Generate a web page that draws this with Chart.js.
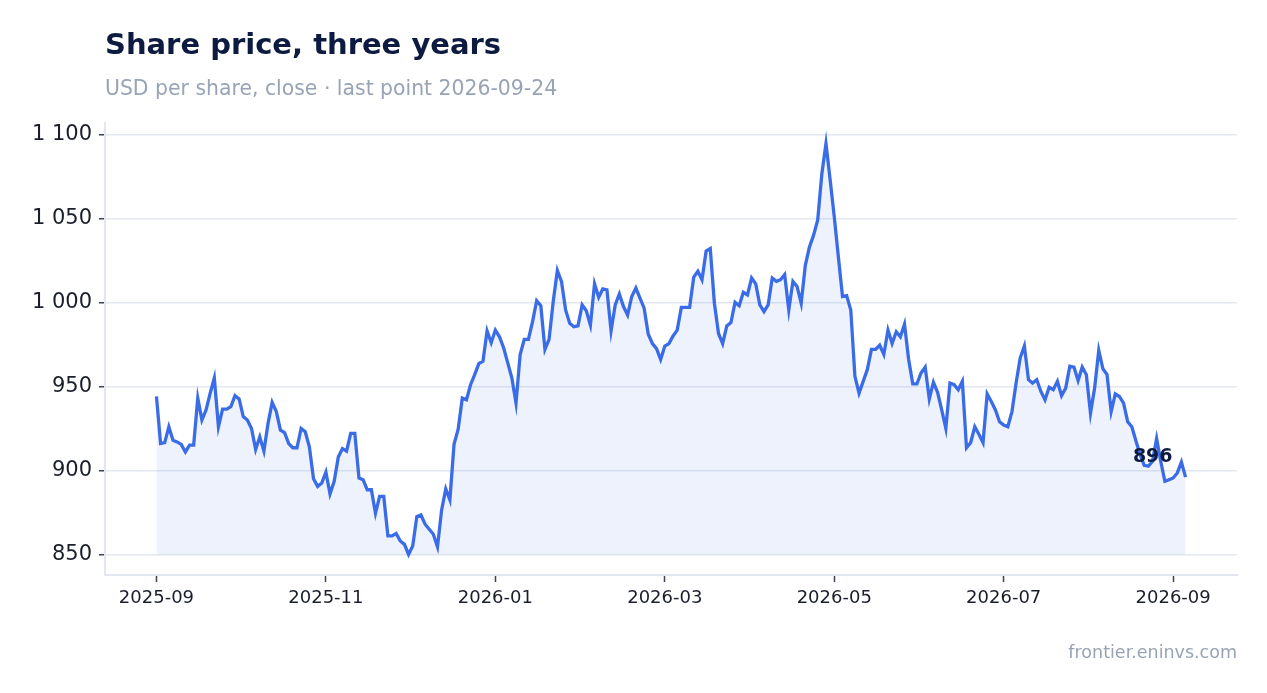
<!DOCTYPE html>
<html>
<head>
<meta charset="utf-8">
<script src="https://cdn.jsdelivr.net/npm/chart.js@4/dist/chart.umd.min.js"></script>
<style>
  html, body { margin: 0; padding: 0; background: #ffffff; }
  #wrap { width: 1267px; height: 693px; position: relative; }
  canvas { display: block; }
</style>
</head>
<body>
<div id="wrap"><canvas id="c" width="1267" height="693"></canvas></div>
<script>
// ---- Data ----
const titleText = "Share price, three years";
const subtitleText = "USD per share, close \u00b7 last point 2026-09-24";
const sourceText = "frontier.eninvs.com";

const prices = [
  944, 916, 916.5, 926, 918, 917, 915.5, 911, 915, 915,
  943, 930, 936, 946, 955, 926, 936.5, 936.5, 938, 944.5,
  942.5, 932, 930, 925, 912.5, 920, 911.5, 928, 940.5, 935,
  924, 922.5, 916, 913.5, 913.5, 925, 923, 914, 895, 890.5,
  892.5, 899, 886, 893.5, 908, 913, 911.5, 922, 922, 895.5,
  894.5, 888.5, 888.5, 874.5, 884.5, 884.5, 861, 861, 862.5, 858,
  856, 850, 855, 872.5, 873.5, 868, 865, 862, 854.5, 876.5,
  889, 882.5, 915.5, 924.5, 943, 942, 951, 957, 963.5, 965,
  983, 976, 983.5, 979.5, 973, 964, 955, 940, 969, 978,
  978, 988.5, 1001, 998, 972, 978, 1000.5, 1019, 1012.5, 995.5,
  987.5, 985.5, 986, 998.5, 995, 986.5, 1011, 1003, 1008, 1007.5,
  983, 998.5, 1005, 997.5, 992.5, 1003.5, 1008.5, 1002.5, 996.5, 981,
  975.5, 972.5, 966, 974, 975.5, 980, 983.5, 997, 997, 997,
  1015, 1018.5, 1013.5, 1030.5, 1032, 999.5, 981.5, 975.5, 986, 988,
  1000, 998, 1006, 1004.5, 1014.5, 1011, 998.5, 994.5, 998.5, 1014.5,
  1012.5, 1013.5, 1016.5, 995.5, 1012.5, 1009.5, 999.5, 1022, 1033, 1040,
  1049, 1076.5, 1094.5, 1073, 1051, 1027, 1003.5, 1004, 995.5, 956,
  946, 953, 960, 972, 972, 974.5, 969, 983.5, 975.5, 982.5,
  979.5, 987, 966, 951.5, 951.5, 958, 961.5, 942.5, 952.5, 946.5,
  936, 925, 952, 951, 948, 953, 913.5, 916.5, 926, 921.5,
  916.5, 945.5, 941, 936, 929, 927, 926, 935, 952, 967,
  974, 954, 952, 954, 947, 942, 949.5, 948, 953, 944.5,
  949, 962, 961.5, 953.5, 961.5, 957, 934, 949, 971.5, 960.5,
  957, 935, 945.5, 944, 940, 929, 926, 917.5, 909.5, 903,
  902.5, 905.5, 919, 905.5, 893.5, 894.5, 895.5, 898.5, 905, 896
];

// x tick labels and the point index each one sits on
const xTickLabels = ["2025-09", "2025-11", "2026-01", "2026-03", "2026-05", "2026-07", "2026-09"];
const xTickIndex  = [0, 41, 82, 123, 164, 205, 246];

// y tick values
const yTicks = [850, 900, 950, 1000, 1050, 1100];

// ---- Build ----
const points = prices.map((v, i) => ({ x: i, y: v }));
const n = prices.length - 1;
const pMin = Math.min(...prices), pMax = Math.max(...prices);
const yPad = (pMax - pMin) * 0.05;

const FONT = "'DejaVu Sans', sans-serif";
const fmt = v => {
  const s = String(Math.round(v));
  return s.replace(/\B(?=(\d{3})+(?!\d))/g, " ");
};

const textPlugin = {
  id: 'texts',
  afterDraw(chart) {
    const ctx = chart.ctx;
    const area = chart.chartArea;
    ctx.save();
    ctx.textAlign = 'left';
    ctx.textBaseline = 'alphabetic';
    ctx.fillStyle = '#0c1b3f';
    ctx.font = "bold 29px " + FONT;
    ctx.fillText(titleText, area.left, 54);
    ctx.fillStyle = '#98a3b5';
    ctx.font = "20.4px " + FONT;
    ctx.fillText(subtitleText, area.left, 95);
    ctx.textAlign = 'right';
    ctx.font = "17.5px " + FONT;
    ctx.fillText(sourceText, area.right, 658);

    // last value label
    const meta = chart.getDatasetMeta(0);
    const last = meta.data[meta.data.length - 1];
    ctx.fillStyle = '#0c1b3f';
    ctx.font = "bold 19px " + FONT;
    ctx.textAlign = 'right';
    ctx.textBaseline = 'middle';
    ctx.fillText(fmt(prices[prices.length - 1]), last.x - 13, last.y - 20);
    ctx.restore();
  }
};

new Chart(document.getElementById('c'), {
  type: 'line',
  data: {
    datasets: [{
      data: points,
      borderColor: '#3b6ce8',
      borderWidth: 3.3,
      backgroundColor: 'rgba(59,108,232,0.09)',
      fill: { value: pMin },
      pointRadius: 0,
      tension: 0
    }]
  },
  options: {
    responsive: false,
    animation: false,
    devicePixelRatio: 1,
    layout: { padding: { left: 0, top: 123, right: 30, bottom: 0 } },
    plugins: { legend: { display: false }, tooltip: { enabled: false } },
    scales: {
      x: {
        type: 'linear',
        min: -n * 0.05,
        max: n * 1.05,
        afterBuildTicks: s => { s.ticks = xTickIndex.map(v => ({ value: v })); },
        afterFit: s => { s.height = 118; },
        ticks: {
          autoSkip: false,
          maxRotation: 0,
          padding: 6,
          color: '#1a1f2b',
          font: { family: FONT, size: 18 },
          callback: (v, i) => xTickLabels[i]
        },
        grid: { drawOnChartArea: false, drawTicks: true, tickLength: 7, tickColor: '#3c4250', tickWidth: 1.5 },
        border: { display: true, color: '#e3e8f0', width: 2 }
      },
      y: {
        min: pMin - yPad,
        max: pMax + yPad,
        afterBuildTicks: s => { s.ticks = yTicks.map(v => ({ value: v })); },
        afterFit: s => { s.width = 105; },
        ticks: {
          padding: 7,
          color: '#1a1f2b',
          font: { family: FONT, size: 21 },
          callback: v => fmt(v)
        },
        grid: { color: '#e3e8f0', lineWidth: 1.5, drawTicks: true, tickLength: 6, tickColor: '#3c4250', tickWidth: 1.5 },
        border: { display: true, color: '#e3e8f0', width: 2 }
      }
    }
  },
  plugins: [textPlugin]
});
</script>
</body>
</html>
